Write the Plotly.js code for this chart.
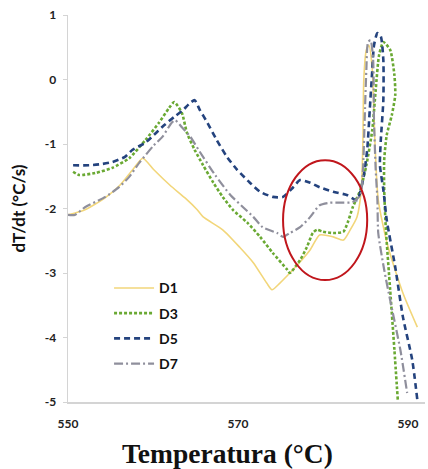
<!DOCTYPE html>
<html>
<head>
<meta charset="utf-8">
<script src="https://cdn.plot.ly/plotly-3.0.1.min.js"></script>
<style>html,body{margin:0;padding:0;background:#fff;}#chart{width:428px;height:469px;}</style>
</head>
<body>
<div id="chart"></div>
<script>
// D1 (yellow solid)
const d1_x = [550.0,552.0,554.4,556.1,557.6,558.8,560.1,562.0,563.8,565.2,565.9,568.2,570.2,571.8,573.4,574.0,574.9,576.1,577.3,578.5,579.6,581.2,582.4,583.2,584.0,584.5,584.7,584.8,585.1,585.4,585.8,586.1,586.5,587.6,589.4,591.1];
const d1_y = [-2.10,-2.02,-1.83,-1.64,-1.40,-1.22,-1.40,-1.64,-1.84,-2.02,-2.13,-2.33,-2.60,-2.84,-3.16,-3.26,-3.16,-3.00,-2.83,-2.64,-2.41,-2.44,-2.49,-2.33,-2.13,-1.71,-0.94,0.00,0.46,0.53,0.15,-0.94,-1.87,-2.57,-3.31,-3.84];
// D3 (green dotted)
const d3_x = [550.6,551.3,553.2,555.2,557.2,559.1,560.7,561.9,562.5,563.4,564.0,564.9,565.9,567.1,568.2,569.4,571.1,572.6,574.1,575.8,576.1,577.3,578.1,578.8,579.3,580.0,581.2,582.4,582.9,583.5,584.4,585.1,585.8,586.2,586.6,587.1,587.9,588.4,588.5,588.1,587.5,587.2,587.2,587.4,587.9,588.4,588.8];
const d3_y = [-1.43,-1.48,-1.45,-1.37,-1.22,-0.94,-0.67,-0.44,-0.35,-0.52,-0.83,-1.09,-1.33,-1.60,-1.82,-2.02,-2.22,-2.44,-2.69,-2.95,-3.00,-2.80,-2.60,-2.38,-2.33,-2.36,-2.38,-2.36,-2.22,-1.98,-1.71,-1.33,-0.78,-0.16,0.38,0.58,0.46,0.07,-0.24,-0.55,-0.86,-1.25,-1.71,-2.33,-3.26,-4.19,-4.97];
// D5 (blue dashed)
const d5_x = [550.6,552.5,554.0,555.2,556.7,557.6,559.1,560.1,561.3,562.5,563.4,564.4,564.9,565.5,566.4,567.5,568.7,569.9,571.4,572.6,574.1,575.3,576.5,577.3,578.5,579.6,581.2,582.8,584.0,584.7,585.2,585.5,585.8,586.0,586.4,586.8,587.1,587.1,586.8,586.7,587.1,587.5,588.5,589.4,590.5,591.1];
const d5_y = [-1.33,-1.33,-1.31,-1.28,-1.20,-1.09,-0.98,-0.86,-0.71,-0.58,-0.49,-0.36,-0.32,-0.47,-0.67,-0.94,-1.20,-1.40,-1.60,-1.74,-1.82,-1.82,-1.67,-1.56,-1.60,-1.67,-1.74,-1.79,-1.87,-1.56,-1.09,-0.47,0.15,0.53,0.72,0.67,0.30,-0.32,-0.94,-1.33,-1.71,-2.18,-2.91,-3.68,-4.35,-4.97];
// D7 (gray dash-dot)
const d7_x = [550.0,550.8,552.0,554.4,556.0,557.2,558.4,560.1,561.1,562.2,562.6,563.4,564.4,565.5,567.3,569.1,570.6,571.8,572.9,574.6,575.3,576.1,577.3,578.5,579.6,580.8,582.4,583.5,584.4,584.7,584.9,585.1,585.3,585.6,585.9,586.0,586.2,586.4,586.5,587.2,587.9,589.1,589.9];
const d7_y = [-2.10,-2.10,-1.98,-1.82,-1.67,-1.51,-1.29,-1.02,-0.89,-0.67,-0.63,-0.74,-0.89,-1.12,-1.48,-1.79,-1.98,-2.13,-2.29,-2.38,-2.44,-2.38,-2.29,-2.13,-1.95,-1.91,-1.91,-1.90,-1.79,-1.40,-0.63,0.15,0.58,0.61,0.30,-0.63,-1.40,-1.87,-2.38,-2.95,-3.42,-4.19,-4.86];

const series_names = ['D1','D3','D5','D7'];
const y_tickvals = [-5,-4,-3,-2,-1,0,1];
const y_ticktext = ['-5','-4','-3','-2','-1','0','1'];
const x_tickvals = [550,570,590];
const x_ticktext = ['550','570','590'];

const tickFont = {family:'Lato, "Open Sans", sans-serif', size:12, color:'#222', weight:'bold'};

const traces = [
  {x:d1_x, y:d1_y, name:series_names[0], legendgroup:'a', mode:'lines', line:{color:'#f2d67a', width:1.6, shape:'spline', smoothing:0.6}},
  {x:d3_x, y:d3_y, name:series_names[1], legendgroup:'b', mode:'lines', line:{color:'#6aa933', width:2.6, dash:'3px,2px', shape:'spline', smoothing:0.6}},
  {x:d5_x, y:d5_y, name:series_names[2], legendgroup:'c', mode:'lines', line:{color:'#24437e', width:2.6, dash:'6px,4px', shape:'spline', smoothing:0.6}},
  {x:d7_x, y:d7_y, name:series_names[3], legendgroup:'d', mode:'lines', line:{color:'#8f8f9c', width:2.2, dash:'9px,3px,2px,3px', shape:'spline', smoothing:0.6}}
];

const layout = {
  width:428, height:469,
  margin:{l:68, r:3, t:15, b:67},
  paper_bgcolor:'#ffffff', plot_bgcolor:'#ffffff',
  showlegend:true,
  legend:{x:0.115, y:0.335, xanchor:'left', yanchor:'top', bgcolor:'rgba(255,255,255,0)',
          font:{family:'Lato, "Open Sans", sans-serif', size:14, color:'#111', weight:'bold'},
          tracegroupgap:4, traceorder:'grouped', itemwidth:40},
  xaxis:{range:[550,592], tickvals:x_tickvals, ticktext:x_ticktext, showgrid:false, zeroline:false,
         showline:true, linecolor:'#d4d4d4', linewidth:1.5, ticks:'', tickfont:tickFont, ticklabelstandoff:10},
  yaxis:{range:[-5,1], tickvals:y_tickvals, ticktext:y_ticktext, showgrid:false, zeroline:false,
         showline:true, linecolor:'#d4d4d4', linewidth:1.5, ticks:'outside', ticklen:4, tickcolor:'#d4d4d4', tickfont:tickFont, ticklabelstandoff:4,
         title:{text:'dT/dt (°C/s)', font:{family:'Lato, "Open Sans", sans-serif', size:17, color:'#111', weight:'bold'}, standoff:14}},
  annotations:[{text:'Temperatura (°C)', xref:'paper', yref:'paper', x:0.448, y:-0.134, xanchor:'center', yanchor:'middle', showarrow:false,
                font:{family:'"Liberation Serif", "DejaVu Serif", serif', size:27.5, color:'#111', weight:'bold'}}],
  shapes:[{type:'circle', xref:'x', yref:'y', x0:575.3, x1:585.2, y0:-3.11, y1:-1.25, line:{color:'#c0161c', width:2}}]
};

Plotly.newPlot('chart', traces, layout, {displayModeBar:false, staticPlot:true});
</script>
</body>
</html>
